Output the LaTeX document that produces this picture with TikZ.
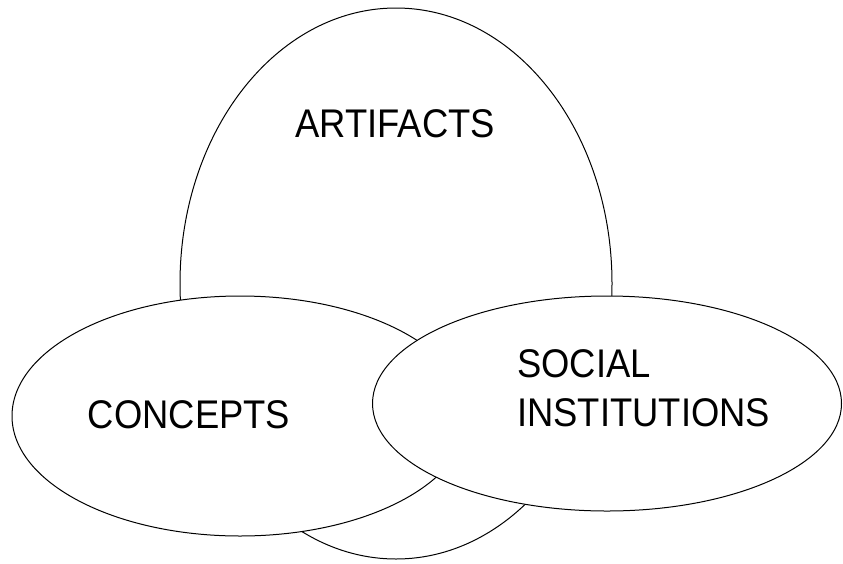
\documentclass[tikz,border=0pt]{standalone}
\usepackage{fontspec}
\setmainfont{Liberation Sans}[FakeStretch=0.91]
\usepackage{tikz}
\tikzset{
blob/.style={draw=black, fill=white, line width=1pt},
lbl/.style={font=\fontsize{40}{49}\selectfont, inner sep=0pt}
}

\begin{document}
\begin{tikzpicture}[x=1pt, y=-1pt]
\useasboundingbox (0,0) rectangle (843,563);
% the three areas, drawn back to front
\filldraw[blob] (396,283.5) ellipse (216 and 275.5);
\node[lbl, anchor=base] (artifacts) at (395,137) {ARTIFACTS};
\filldraw[blob] (240,416) ellipse (228 and 120);
\node[lbl, anchor=base] (concepts) at (189,428) {CONCEPTS};
\filldraw[blob] (607,403.5) ellipse (234.5 and 107.5);
\node[lbl, anchor=base west, align=left] (social) at (517,426) {SOCIAL\\INSTITUTIONS};
\end{tikzpicture}
\end{document}
